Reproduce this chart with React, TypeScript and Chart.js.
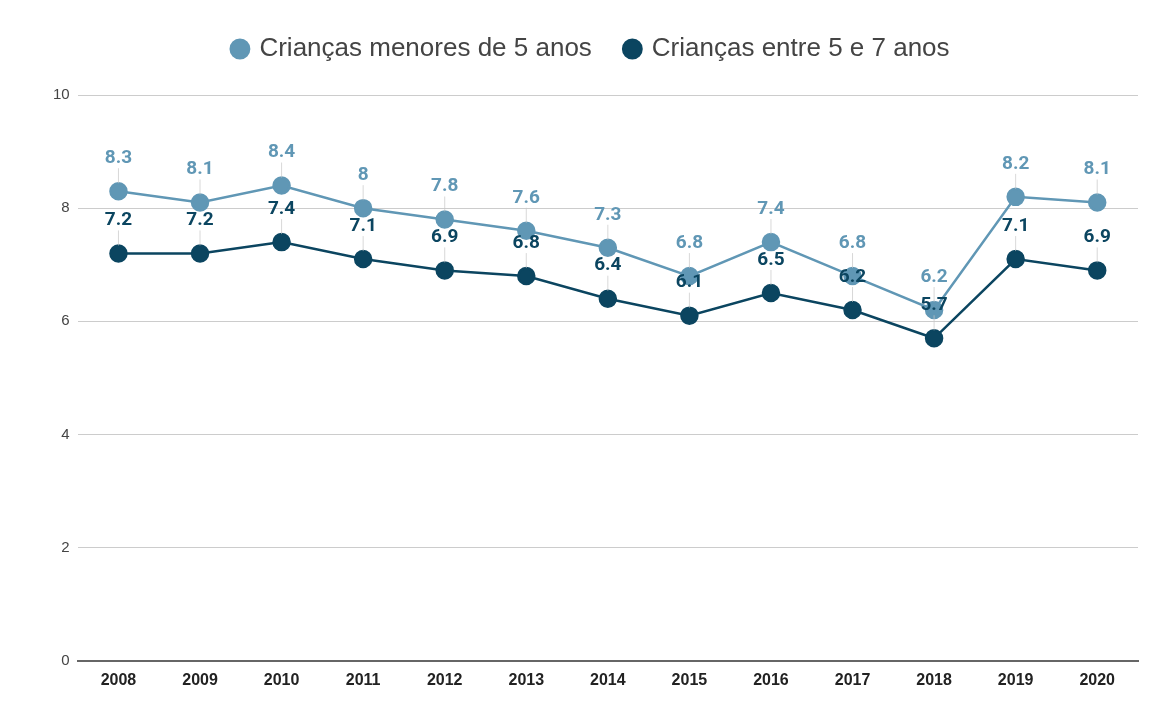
import React, { useEffect, useRef } from "react";
import { Chart, registerables } from "chart.js";

Chart.register(...registerables);

const years = ["2008", "2009", "2010", "2011", "2012", "2013", "2014", "2015", "2016", "2017", "2018", "2019", "2020"];
const under5 = [8.3, 8.1, 8.4, 8, 7.8, 7.6, 7.3, 6.8, 7.4, 6.8, 6.2, 8.2, 8.1];
const from5to7 = [7.2, 7.2, 7.4, 7.1, 6.9, 6.8, 6.4, 6.1, 6.5, 6.2, 5.7, 7.1, 6.9];
const seriesNames = ["Crianças menores de 5 anos", "Crianças entre 5 e 7 anos"];
const yTicks = [0, 2, 4, 6, 8, 10];

const LIGHT = "#6097b5";
const DARK = "#0b4560";

const legendMargin = {
  id: "legendMargin",
  beforeInit(chart: any) {
    const fit = chart.legend.fit;
    chart.legend.fit = function () {
      fit.bind(chart.legend)();
      this.height += 23;
    };
  },
};

const labelPlugin = {
  id: "pointLabels",
  afterDatasetsDraw(chart: any) {
    const ctx = chart.ctx;
    ctx.save();
    chart.data.datasets.forEach((ds: any, di: number) => {
      const meta = chart.getDatasetMeta(di);
      meta.data.forEach((pt: any) => {
        ctx.strokeStyle = "rgba(200,200,200,0.7)";
        ctx.lineWidth = 1;
        ctx.beginPath();
        ctx.moveTo(pt.x, pt.y - 8);
        ctx.lineTo(pt.x, pt.y - 23);
        ctx.stroke();
      });
    });
    chart.data.datasets.forEach((ds: any, di: number) => {
      const meta = chart.getDatasetMeta(di);
      meta.data.forEach((pt: any, i: number) => {
        const v = ds.data[i];
        ctx.font = "bold 19px Roboto";
        ctx.fillStyle = ds.borderColor;
        ctx.textAlign = "center";
        ctx.textBaseline = "middle";
        ctx.fillText(String(v), pt.x, pt.y - 33);
      });
    });
    ctx.restore();
  },
};

export default function App() {
  const ref = useRef<HTMLCanvasElement>(null);
  useEffect(() => {
    document.body.style.margin = "0";
    document.body.style.background = "#ffffff";
    const chart = new Chart(ref.current!, {
      type: "line",
      data: {
        labels: years,
        datasets: [
          {
            label: seriesNames[0],
            data: under5,
            borderColor: LIGHT,
            backgroundColor: LIGHT,
            pointBackgroundColor: LIGHT,
            pointBorderColor: LIGHT,
            borderWidth: 2.5,
            pointRadius: 8,
            tension: 0,
          },
          {
            label: seriesNames[1],
            data: from5to7,
            borderColor: DARK,
            backgroundColor: DARK,
            pointBackgroundColor: DARK,
            pointBorderColor: DARK,
            borderWidth: 2.5,
            pointRadius: 8,
            tension: 0,
          },
        ],
      },
      options: {
        animation: false,
        responsive: false,
        layout: { padding: { left: 45, right: 14, top: 2, bottom: 11 } },
        plugins: {
          legend: {
            position: "top",
            labels: {
              usePointStyle: true,
              pointStyle: "circle",
              boxWidth: 13,
              boxHeight: 13,
              padding: 34,
              color: "#444",
              font: { family: "Liberation Sans", size: 26 },
            },
          },
          tooltip: { enabled: false },
        },
        scales: {
          x: {
            offset: true,
            grid: { display: false, drawTicks: false },
            border: { display: true, color: "#666", width: 2 },
            ticks: {
              color: "#222",
              padding: 10,
              font: { family: "Liberation Sans", size: 16, weight: "bold" },
            },
          },
          y: {
            min: 0,
            max: 10,
            afterBuildTicks: (axis: any) => {
              axis.ticks = yTicks.map((v) => ({ value: v }));
            },
            grid: {
              color: (c: any) => (c.tick && c.tick.value === 0 ? "rgba(0,0,0,0)" : "#cccccc"),
              drawTicks: false,
            },
            border: { display: false },
            ticks: {
              color: "#444",
              padding: 8,
              font: { family: "Liberation Sans", size: 15 },
            },
          },
        },
      },
      plugins: [labelPlugin, legendMargin],
    });
    return () => chart.destroy();
  }, []);
  return (
    <div style={{ width: 1152, height: 711 }}>
      <canvas ref={ref} width={1152} height={711} style={{ width: 1152, height: 711 }} />
    </div>
  );
}
